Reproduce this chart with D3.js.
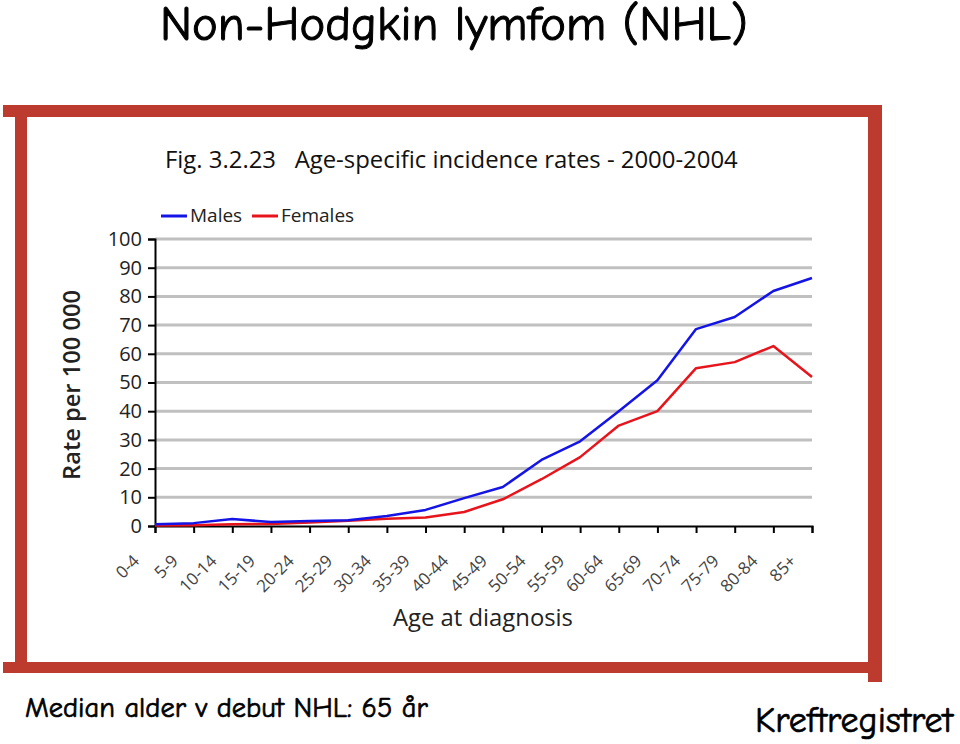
<!DOCTYPE html>
<html>
<head>
<meta charset="utf-8">
<script src="https://cdn.jsdelivr.net/npm/d3@7"></script>
<style>
html,body{margin:0;padding:0;background:#fff;}
svg{display:block;}
</style>
</head>
<body>
<svg id="chart" width="960" height="744"></svg>
<script>
const categories = ["0-4","5-9","10-14","15-19","20-24","25-29","30-34","35-39","40-44","45-49","50-54","55-59","60-64","65-69","70-74","75-79","80-84","85+"];
const males   = [0.6, 1.0, 2.4, 1.4, 1.7, 2.0, 3.5, 5.6, 9.7, 13.6, 23.0, 29.5, 40.0, 50.8, 68.6, 72.8, 81.9, 86.4];
const females = [0.2, 0.3, 0.6, 0.7, 1.2, 1.8, 2.5, 3.0, 4.9, 9.3, 16.3, 24.0, 35.0, 40.0, 55.0, 57.1, 62.7, 51.9];
const yTicks  = [0,10,20,30,40,50,60,70,80,90,100];
const seriesNames = ["Males","Females"];

const comic = "'Comic Sans MS','Comic Neue','Chalkboard','DejaVu Sans',sans-serif";
const chartFont = "'Open Sans','Noto Sans',sans-serif";

const svg = d3.select("#chart");

function fitWidth(sel, target){
  const fs = parseFloat(sel.attr("font-size"));
  const w = sel.node().getComputedTextLength();
  sel.attr("font-size", fs * target / w);
  return sel;
}

// Main slide title
const mt = svg.append("text").attr("x",160).attr("y",40)
  .attr("font-family",comic).attr("font-size",44).attr("fill","#000")
  .attr("stroke","#000").attr("stroke-width",1)
  .text("Non-Hodgkin lymfom (NHL)");
fitWidth(mt, 588);

// Red frame
const frameColor = "#bd3b2e";
svg.append("rect").attr("x",3).attr("y",105).attr("width",879).attr("height",12).attr("fill",frameColor);
svg.append("rect").attr("x",15).attr("y",105).attr("width",12).attr("height",568).attr("fill",frameColor);
svg.append("rect").attr("x",3).attr("y",662).attr("width",879).attr("height",11).attr("fill",frameColor);
svg.append("rect").attr("x",868).attr("y",105).attr("width",14).attr("height",577).attr("fill",frameColor);

// Chart
const x = d3.scalePoint().domain(categories).range([155, 812]);
const y = d3.scaleLinear().domain([0,100]).range([526, 239]);

// Chart title
const ct = svg.append("text").attr("x",165).attr("y",168)
  .attr("font-family",chartFont).attr("font-size",20).attr("fill","#111")
  .attr("xml:space","preserve")
  .text("Fig. 3.2.23   Age-specific incidence rates - 2000-2004");
fitWidth(ct, 573);

// Legend
const legendItems = [
  {name: seriesNames[0], color:"#1414e6", x0:161},
  {name: seriesNames[1], color:"#e8141c", x0:252}
];
legendItems.forEach(d=>{
  svg.append("line").attr("x1",d.x0).attr("x2",d.x0+26).attr("y1",216).attr("y2",216)
    .attr("stroke",d.color).attr("stroke-width",3);
  svg.append("text").attr("x",d.x0+29).attr("y",222)
    .attr("font-family",chartFont).attr("font-size",19).attr("fill","#222")
    .text(d.name);
});

// Gridlines
svg.append("g").selectAll("line").data(yTicks.filter(t=>t>0)).join("line")
  .attr("x1",155).attr("x2",812)
  .attr("y1",d=>y(d)).attr("y2",d=>y(d))
  .attr("stroke","#c0c0c0").attr("stroke-width",3);

// Y axis
const yAxis = svg.append("g").attr("transform","translate(155,0)")
  .call(d3.axisLeft(y).tickValues(yTicks).tickSize(7).tickPadding(6).tickFormat(d3.format("d")));
yAxis.select(".domain").attr("stroke","#000").attr("stroke-width",2);
yAxis.selectAll(".tick line").attr("stroke","#000").attr("stroke-width",2);
yAxis.selectAll(".tick text").attr("font-family",chartFont).attr("font-size",20).attr("fill","#222");

// X axis
const xAxis = svg.append("g").attr("transform","translate(0,526)")
  .call(d3.axisBottom(x).tickSize(7).tickPadding(0));
xAxis.select(".domain").attr("stroke","#000").attr("stroke-width",2);
xAxis.selectAll(".tick line").attr("stroke","#000").attr("stroke-width",2);
xAxis.selectAll(".tick text")
  .attr("font-family",chartFont).attr("font-size",17).attr("fill","#444")
  .attr("text-anchor","end").attr("dy",0)
  .attr("transform","translate(-15,36) rotate(-45)")
  .attr("y",0).attr("x",0);

// Lines
const line = d3.line().x((d,i)=>x(categories[i])).y(d=>y(d));
svg.append("path").datum(females).attr("d",line).attr("fill","none")
  .attr("stroke","#e8141c").attr("stroke-width",2.5).attr("stroke-linejoin","round");
svg.append("path").datum(males).attr("d",line).attr("fill","none")
  .attr("stroke","#1414e6").attr("stroke-width",2.5).attr("stroke-linejoin","round");

// Axis titles
const xt = svg.append("text").attr("x",483).attr("y",626).attr("text-anchor","middle")
  .attr("font-family",chartFont).attr("font-size",22).attr("fill","#222")
  .text("Age at diagnosis");
fitWidth(xt, 180);
const yt = svg.append("text").attr("transform","translate(80,385) rotate(-90)").attr("text-anchor","middle")
  .attr("font-family",chartFont).attr("font-size",22).attr("font-weight",600).attr("fill","#222")
  .text("Rate per 100 000");
fitWidth(yt, 190);

// Bottom texts
const bt = svg.append("text").attr("x",25).attr("y",717)
  .attr("font-family",comic).attr("font-size",29).attr("fill","#000")
  .attr("stroke","#000").attr("stroke-width",0.7)
  .text("Median alder v debut NHL: 65 år");
fitWidth(bt, 403);
const kr = svg.append("text").attr("x",755).attr("y",732)
  .attr("font-family",comic).attr("font-size",29).attr("fill","#000")
  .attr("stroke","#000").attr("stroke-width",0.7)
  .text("Kreftregistret");
fitWidth(kr, 198);
</script>
</body>
</html>
